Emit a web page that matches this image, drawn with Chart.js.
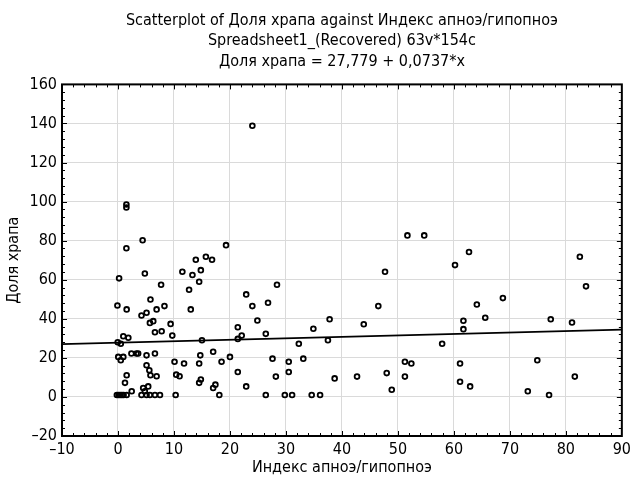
<!DOCTYPE html>
<html>
<head>
<meta charset="utf-8">
<script src="https://cdn.jsdelivr.net/npm/chart.js@4"></script>
<style>
  html, body { margin: 0; padding: 0; background: #fff; }
  #wrap { width: 635px; height: 485px; }
</style>
</head>
<body>
<div id="wrap"><canvas id="scatter"></canvas></div>
<script>
// Scatterplot: snoring share vs apnea/hypopnea index

const FONT = "'Liberation Sans Narrow', 'Arial Narrow', 'DejaVu Sans Condensed', sans-serif";

const titleLines = [
  'Scatterplot of Доля храпа against Индекс апноэ/гипопноэ',
  'Spreadsheet1_(Recovered) 63v*154c',
  'Доля храпа = 27,779 + 0,0737*x',
];
const xTitle = 'Индекс апноэ/гипопноэ';
const yTitle = 'Доля храпа';

const xTickValues = [-10, 0, 10, 20, 30, 40, 50, 60, 70, 80, 90];
const yTickValues = [-20, 0, 20, 40, 60, 80, 100, 120, 140, 160];

// apnea/hypopnea index (x)
const apneaIndex = [
  24.0, 1.5, 1.5, 4.4, 1.5, 19.3, 13.9, 15.7, 16.8,
  0.2, 4.8, 11.5, 13.3, 14.8, 14.5, 7.7, 12.7, 22.9, 24.0, 26.8,
  5.8, -0.1, 1.55, 5.1, 4.2, 6.9, 8.3, 13.0, 5.7, 6.3, 9.4, 21.4, 24.9,
  6.6, 7.8, 0.95, 1.85, -0.05, 0.5, 9.7, 15.0, 21.4, 22.1, 26.4,
  0.05, 0.95, 0.5, 2.4, 3.3, 3.6, 5.1, 6.6, 10.1, 11.8, 14.7, 14.5, 17.0, 18.5, 20.0,
  5.1, 5.6, 21.4, 1.55, 5.8, 6.9, 10.4, 11.0, 1.25, 14.8, 14.5, 17.4, 17.0, 22.9,
  4.5, 5.4, 4.8, 2.45,
  -0.2, 0.1, 0.4, 0.7, 1.0, 1.55, 4.2, 5.1, 5.7, 6.6, 7.5, 10.3, 18.1, 26.4, 29.8, 31.1, 34.6, 36.1, 77.0,
  51.7, 54.7, 28.4, 27.6, 28.2, 30.5, 30.5, 32.3, 33.1, 34.9, 37.8, 37.5, 38.7, 42.7, 43.9, 46.5, 47.7, 48.0, 48.9,
  51.25, 52.4, 51.25, 57.9, 62.7, 60.2, 82.5, 83.6, 64.1, 68.75, 65.6, 61.7, 61.7, 77.3, 81.1, 61.1, 74.9, 61.1, 62.9,
  81.6, 73.2,
];

// snoring share (y)
const snoreShare = [
  138.8, 98.5, 97.0, 80.2, 76.1, 77.7, 70.2, 71.8, 70.2,
  60.7, 63.2, 64.1, 62.4, 64.9, 59.0, 57.4, 54.9, 52.5, 46.5, 48.2,
  49.9, 46.8, 44.8, 43.1, 41.7, 44.8, 46.5, 44.8, 37.9, 38.8, 37.4, 35.7, 39.1,
  33.1, 33.6, 31.1, 30.3, 28.0, 27.2, 31.4, 29.0, 29.7, 31.4, 32.3,
  20.5, 20.5, 18.8, 22.2, 22.2, 22.2, 21.3, 22.2, 18.0, 17.1, 21.3, 17.1, 23.1, 18.0, 20.5,
  16.2, 13.6, 12.8, 11.1, 11.1, 10.6, 11.4, 10.6, 7.2, 8.9, 7.2, 6.3, 4.6, 5.4,
  4.6, 5.4, 2.9, 2.9,
  1, 1, 1, 1, 1, 1, 1, 1, 1, 1, 1, 1, 1, 1, 1, 1, 1, 1, 1,
  82.7, 82.7, 57.4, 19.6, 10.4, 18.0, 12.8, 27.2, 19.6, 34.9, 39.8, 29.0, 9.5, 10.4, 37.2, 46.5, 64.1, 12.2, 3.7,
  18.0, 17.1, 10.4, 27.2, 74.2, 67.5, 71.8, 56.6, 47.3, 50.6, 40.5, 39.0, 34.7, 39.8, 38.1, 17.1, 18.8, 7.8, 5.4,
  10.4, 2.9,
];

// regression line end points
const fitX = [-10, 90];
const fitY = [27.04, 34.41];

const scatterPts = apneaIndex.map((x, i) => ({ x, y: snoreShare[i] }));
const fitPts = fitX.map((x, i) => ({ x, y: fitY[i] }));

const dash = v => String(v).replace('-', '–');

// frame + inward major/minor ticks, like the original
const framePlugin = {
  id: 'frame',
  afterDatasetsDraw(chart) {
    const { ctx, chartArea: a, scales } = chart;
    ctx.save();
    ctx.strokeStyle = '#000';
    ctx.lineWidth = 1;
    const xs = scales.x, ys = scales.y;
    for (let i = 0; i < xTickValues.length - 1; i++) {
      for (let k = 0; k < 5; k++) {
        const v = xTickValues[i] + k * (xTickValues[i + 1] - xTickValues[i]) / 5;
        const px = Math.round(xs.getPixelForValue(v)) + 0.5;
        const len = k === 0 ? 5 : 3;
        ctx.beginPath();
        ctx.moveTo(px, a.bottom); ctx.lineTo(px, a.bottom - len);
        ctx.moveTo(px, a.top); ctx.lineTo(px, a.top + len);
        ctx.stroke();
      }
    }
    for (let i = 0; i < yTickValues.length - 1; i++) {
      for (let k = 0; k < 5; k++) {
        const v = yTickValues[i] + k * (yTickValues[i + 1] - yTickValues[i]) / 5;
        const py = Math.round(ys.getPixelForValue(v)) + 0.5;
        const len = k === 0 ? 5 : 3;
        ctx.beginPath();
        ctx.moveTo(a.left, py); ctx.lineTo(a.left + len, py);
        ctx.moveTo(a.right, py); ctx.lineTo(a.right - len, py);
        ctx.stroke();
      }
    }
    ctx.lineWidth = 2;
    ctx.strokeRect(a.left, a.top, a.right - a.left, a.bottom - a.top);
    ctx.restore();
  },
};

new Chart(document.getElementById('scatter').getContext('2d'), {
  type: 'scatter',
  data: {
    datasets: [
      {
        data: scatterPts,
        pointStyle: 'circle',
        pointRadius: 2.4,
        pointHoverRadius: 2.4,
        borderWidth: 1.8,
        borderColor: '#000',
        backgroundColor: 'rgba(0,0,0,0)',
      },
      {
        data: fitPts,
        showLine: true,
        pointRadius: 0,
        borderColor: '#000',
        borderWidth: 1.8,
      },
    ],
  },
  options: {
    responsive: true,
    maintainAspectRatio: false,
    animation: false,
    layout: { padding: { left: 0, right: 13, top: 0, bottom: 0 } },
    plugins: {
      legend: { display: false },
      tooltip: { enabled: false },
      title: {
        display: true,
        fullSize: false,
        text: titleLines,
        color: '#000',
        font: { family: FONT, size: 16, weight: 'normal', lineHeight: 1.3 },
        padding: { top: 10, bottom: 12 },
      },
    },
    scales: {
      x: {
        type: 'linear',
        min: -10, max: 90,
        afterBuildTicks: s => { s.ticks = xTickValues.map(v => ({ value: v })); },
        afterFit: s => { s.height = 49; },
        grid: { color: '#dadada', lineWidth: 1, drawTicks: false },
        border: { display: false },
        ticks: { color: '#000', padding: 4, font: { family: FONT, size: 16 }, callback: v => dash(v), maxRotation: 0 },
        title: { display: true, text: xTitle, color: '#000', font: { family: FONT, size: 16 }, padding: { top: 0, bottom: 8 } },
      },
      y: {
        type: 'linear',
        min: -20, max: 160,
        afterBuildTicks: s => { s.ticks = yTickValues.map(v => ({ value: v })); },
        afterFit: s => { s.width = 62; },
        grid: { color: '#dadada', lineWidth: 1, drawTicks: false },
        border: { display: false },
        ticks: { color: '#000', padding: 5, font: { family: FONT, size: 16 }, callback: v => dash(v) },
        title: { display: true, text: yTitle, color: '#000', font: { family: FONT, size: 16 }, padding: { top: 4, bottom: 0 } },
      },
    },
  },
  plugins: [framePlugin],
});
</script>
</body>
</html>
